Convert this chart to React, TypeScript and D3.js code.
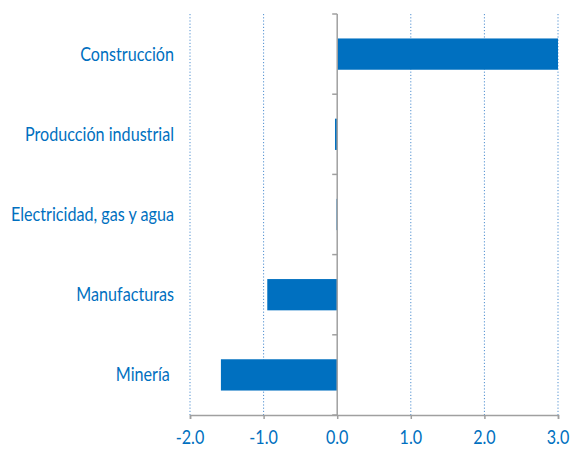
import React, { useEffect, useRef } from 'react';
import * as d3 from 'd3';

const categories = ['Construcción', 'Producción industrial', 'Electricidad, gas y agua', 'Manufacturas', 'Minería '];
const values = [3.0, -0.03, -0.01, -0.95, -1.58];
const xTicks = [-2, -1, 0, 1, 2, 3];

const width = 573;
const height = 458;
const margin = { top: 14, right: 15, bottom: 43, left: 190 };

const blue = '#0070C0';
const font = 'Lato, "Open Sans", sans-serif';
const fontSize = 18.5;

export default function App() {
  const ref = useRef<SVGSVGElement>(null);

  useEffect(() => {
    document.body.style.margin = '0';
    const svg = d3.select(ref.current);
    svg.selectAll('*').remove();

    const x = d3.scaleLinear().domain([-2, 3]).range([margin.left, width - margin.right]);
    const y = d3
      .scaleBand()
      .domain(categories)
      .range([margin.top, height - margin.bottom])
      .paddingInner(0.61)
      .paddingOuter(0.305);

    const top = margin.top;
    const bottom = height - margin.bottom;

    // dotted gridlines
    svg
      .append('g')
      .selectAll('line')
      .data(xTicks.filter((t) => t !== 0))
      .join('line')
      .attr('x1', (d) => x(d))
      .attr('x2', (d) => x(d))
      .attr('y1', top)
      .attr('y2', bottom)
      .attr('stroke', '#4f8fd0')
      .attr('stroke-width', 1)
      .attr('stroke-dasharray', '1.2,2');

    // bars
    svg
      .append('g')
      .selectAll('rect')
      .data(values)
      .join('rect')
      .attr('x', (d) => x(Math.min(0, d)))
      .attr('y', (_, i) => y(categories[i])!)
      .attr('width', (d) => Math.max(1, Math.abs(x(d) - x(0))))
      .attr('height', y.bandwidth())
      .attr('fill', blue);

    // category axis on zero
    const step = (bottom - top) / categories.length;
    const bounds = d3.range(categories.length + 1).map((i) => top + i * step);
    svg
      .append('line')
      .attr('x1', x(0))
      .attr('x2', x(0))
      .attr('y1', top)
      .attr('y2', bottom)
      .attr('stroke', '#a0a0a0')
      .attr('stroke-width', 1.5);
    svg
      .append('g')
      .selectAll('line')
      .data(bounds)
      .join('line')
      .attr('x1', x(0) - 5)
      .attr('x2', x(0))
      .attr('y1', (d) => d)
      .attr('y2', (d) => d)
      .attr('stroke', '#a0a0a0')
      .attr('stroke-width', 1.5);

    // x axis
    const fmt = (d: number) => d.toFixed(1);
    const xAxis = svg
      .append('g')
      .attr('transform', 'translate(0,' + bottom + ')')
      .call(d3.axisBottom(x).tickValues(xTicks).tickSize(4).tickFormat((d) => fmt(+d)));
    xAxis.select('.domain').attr('stroke', '#a0a0a0').attr('stroke-width', 1.5);
    xAxis.selectAll('.tick line').attr('stroke', '#a0a0a0').attr('stroke-width', 1.5);
    xAxis.selectAll('.tick text').remove();

    // category labels, squeezed horizontally to imitate a narrow font
    const labels = svg
      .append('g')
      .selectAll('g')
      .data(categories)
      .join('g')
      .attr('transform', (d) => 'translate(174,' + (y(d)! + y.bandwidth() / 2) + ')');
    const catText = labels
      .append('text')
      .attr('dy', '0.35em')
      .attr('text-anchor', 'end')
      .style('white-space', 'pre')
      .attr('fill', blue)
      .attr('font-family', font)
      .attr('font-size', fontSize)
      .text((d) => d);

    const widest = (catText.nodes()[2] as SVGTextElement).getComputedTextLength();
    const sx = 163 / widest;
    catText.attr('transform', 'scale(' + sx + ',1)');

    svg
      .append('g')
      .selectAll('g')
      .data(xTicks)
      .join('g')
      .attr('transform', (d) => 'translate(' + x(d) + ',' + (bottom + 29) + ')')
      .append('text')
      .attr('transform', 'scale(' + sx + ',1)')
      .attr('text-anchor', 'middle')
      .attr('fill', blue)
      .attr('font-family', font)
      .attr('font-size', fontSize)
      .text((d) => fmt(d));
  }, []);

  return <svg ref={ref} width={width} height={height} style={{ display: 'block' }} />;
}
